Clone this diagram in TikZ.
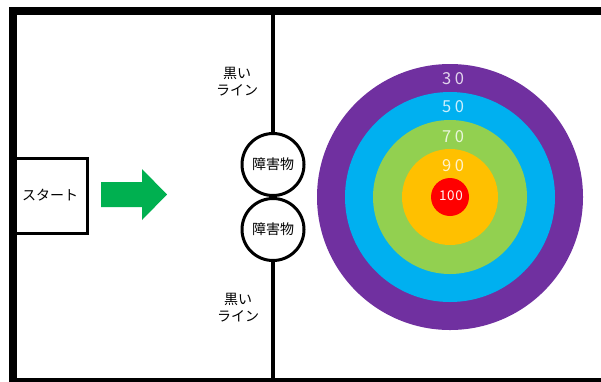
\documentclass[tikz,border=0pt]{standalone}
\usepackage{fontspec}
\setmainfont{Noto Sans CJK JP}
\newfontfamily\numfont[LetterSpace=22]{Noto Sans CJK JP}
\newfontfamily\smallnumfont[LetterSpace=5]{Noto Sans CJK JP}
\definecolor{rpurple}{HTML}{7030A0}
\definecolor{rblue}{HTML}{00B0F0}
\definecolor{rgreen}{HTML}{92D050}
\definecolor{rorange}{HTML}{FFC000}
\definecolor{rred}{HTML}{FF0000}
\definecolor{arrowgreen}{HTML}{00B050}
\begin{document}
\begin{tikzpicture}[x=1pt,y=-1pt,
  wall/.style={line width=8pt,draw=black},
  blackline/.style={line width=3.5pt,draw=black},
  obstacle/.style={circle,draw=black,line width=3pt,minimum size=62pt,inner sep=0pt,font=\fontsize{14}{16}\selectfont},
  startbox/.style={rectangle,draw=black,line width=3pt,minimum width=74pt,minimum height=75pt,inner sep=0pt,font=\fontsize{14}{16}\selectfont},
  linelabel/.style={align=center,font=\fontsize{14}{17}\selectfont,inner sep=0pt},
  ring/.style={circle,inner sep=0pt},
  score/.style={text=white,text opacity=0.8,inner sep=0pt,font=\numfont\fontsize{16.5}{16}\selectfont}
]
\useasboundingbox (0,0) rectangle (601,381);
\clip (0,0) rectangle (601,381);
% walls
\draw[wall] (13,395) -- (13,11) -- (615,11);
\draw[wall] (9,382) -- (615,382);
% target
\node[ring,fill=rpurple,minimum size=266pt] (t30) at (450,197) {};
\node[ring,fill=rblue,minimum size=210pt] (t50) at (450,197) {};
\node[ring,fill=rgreen,minimum size=154pt] (t70) at (450,197) {};
\node[ring,fill=rorange,minimum size=96pt] (t90) at (450,197) {};
\node[ring,fill=rred,minimum size=38pt] (t100) at (450,197) {};
\node[score] (s30) at (453,79) {30};
\node[score] (s50) at (453,107) {50};
\node[score] (s70) at (453,137) {70};
\node[score] (s90) at (453,166) {90};
\node[score,font=\smallnumfont\fontsize{13.5}{13}\selectfont,text opacity=0.95] (s100) at (451,196) {100};
% obstacles and black line
\node[obstacle] (o1) at (273,164.5) {障害物};
\node[obstacle] (o2) at (273,229.5) {障害物};
\coordinate (ltop) at (273,11);
\coordinate (lbot) at (273,382);
\draw[blackline] (ltop) -- (o1.north);
\draw[blackline] (o2.south) -- (lbot);
\node[linelabel] (lab1) at (237,82) {黒い\\ライン};
\node[linelabel] (lab2) at (238,308) {黒い\\ライン};
% start
\node[startbox] (start) at (50,195.5) {スタート};
% arrow
\fill[arrowgreen] (101,182) -- (142,182) -- (142,169) -- (167,194.5) -- (142,220) -- (142,207) -- (101,207) -- cycle;
\end{tikzpicture}
\end{document}
